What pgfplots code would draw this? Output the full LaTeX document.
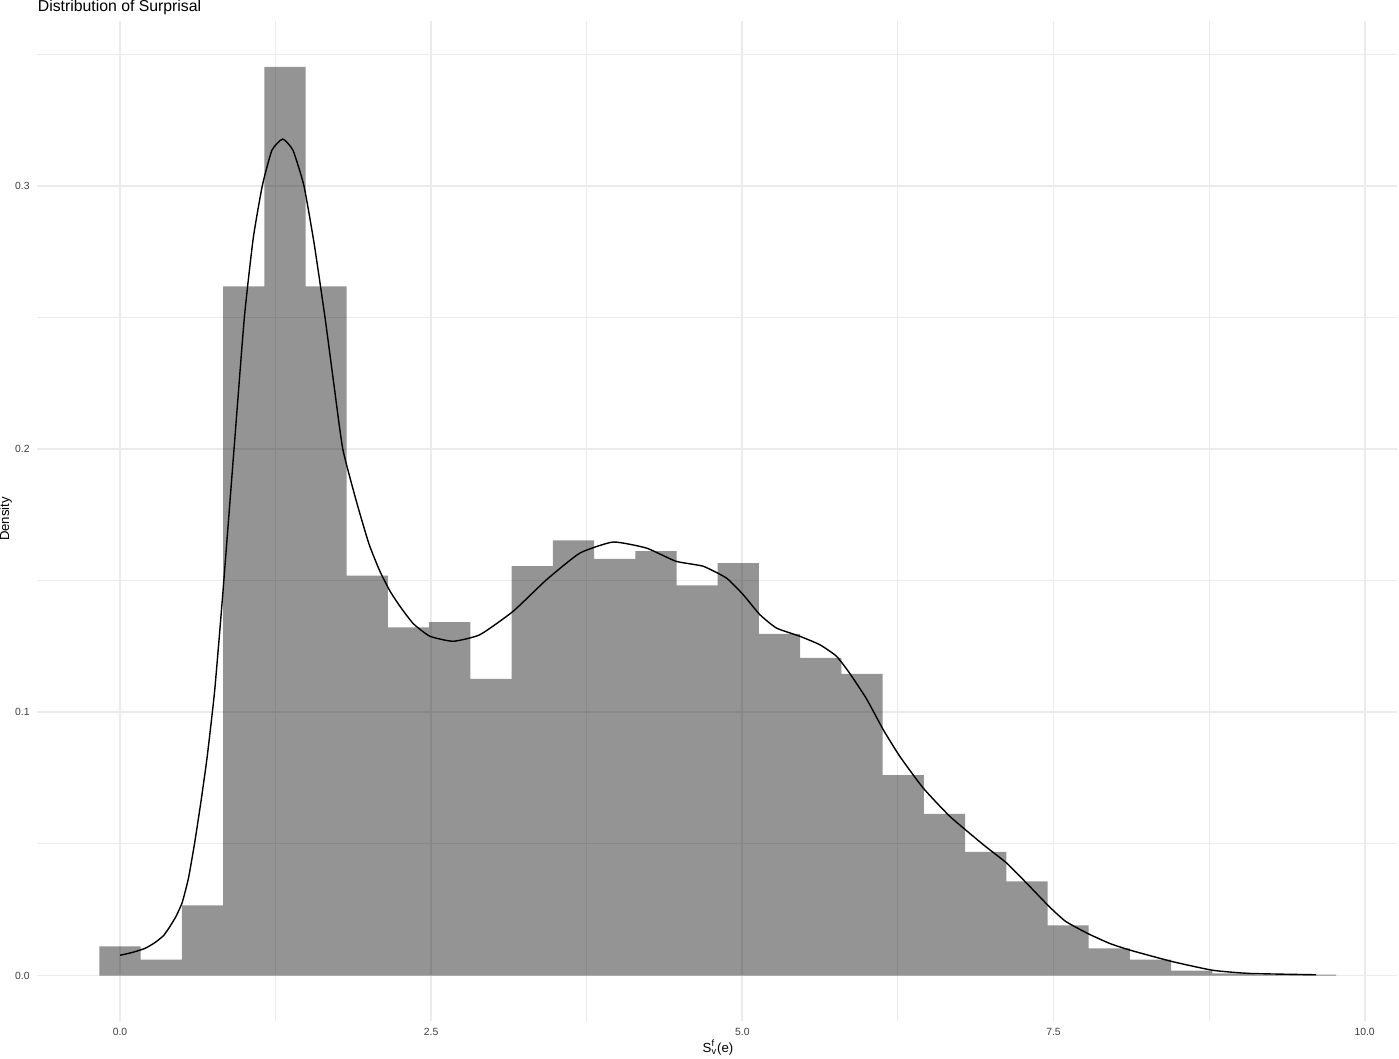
\documentclass[border=0pt]{standalone}
\usepackage{pgfplots}
\pgfplotsset{compat=1.18}
\usepackage{fontspec}
\setmainfont{Liberation Sans}
\definecolor{gridc}{RGB}{235,235,235}
\definecolor{tickc}{RGB}{60,60,60}
\begin{document}
\begin{tikzpicture}
\begin{axis}[
  at={(0,0)}, anchor=south west,
  scale only axis, width=679.75pt, height=499.75pt,
  xmin=-0.663, xmax=10.26, ymin=-0.01726, ymax=0.36246,
  axis line style={draw=none}, tick style={draw=none},
  major tick length=0pt, minor tick length=0pt,
  xtick={0,2.5,5,7.5,10}, xticklabels={0.0,2.5,5.0,7.5,10.0},
  ytick={0,0.1,0.2,0.3}, yticklabels={0.0,0.1,0.2,0.3},
  minor xtick={1.25,3.75,6.25,8.75}, minor ytick={0.05,0.15,0.25,0.35},
  grid=both,
  major grid style={draw=gridc, line width=0.9pt},
  minor grid style={draw=gridc, line width=0.45pt},
  xticklabel style={font=\fontsize{5.2}{6}\selectfont, text=tickc, anchor=base, inner sep=0pt, yshift=-7.35pt},
  yticklabel style={font=\fontsize{5.2}{6}\selectfont, text=tickc, anchor=east, inner sep=0pt, xshift=-3.75pt},
]
\addplot[const plot, fill=black, fill opacity=0.42, draw=none] coordinates {
(-0.1656,0.0111) (0.1656,0.0061) (0.4968,0.0267) (0.8280,0.2618) (1.1592,0.3452)
(1.4904,0.2618) (1.8216,0.1519) (2.1528,0.1323) (2.4840,0.1343) (2.8152,0.1127)
(3.1464,0.1555) (3.4776,0.1653) (3.8088,0.1583) (4.1400,0.1612) (4.4712,0.1482)
(4.8024,0.1567) (5.1336,0.1298) (5.4648,0.1207) (5.7960,0.1146) (6.1272,0.0761)
(6.4584,0.0614) (6.7896,0.0470) (7.1208,0.0358) (7.4520,0.0191) (7.7832,0.0103)
(8.1144,0.0061) (8.4456,0.0019) (8.7768,0.0008) (9.1080,0.0004) (9.4392,0.0004)
(9.7704,0.0004)
} \closedcycle;
\addplot[black, line width=0.7pt, smooth, tension=0.3] coordinates {
(0,0.0077) (0.1,0.0088) (0.2,0.0103) (0.28,0.0125) (0.35,0.0152) (0.402,0.0187)
(0.45,0.0225) (0.5,0.0278) (0.55,0.0370) (0.6,0.0505) (0.65,0.066) (0.7,0.083)
(0.76,0.108) (0.822,0.1428) (0.916,0.2) (0.999,0.25) (1.07,0.28) (1.143,0.3)
(1.22,0.3135) (1.307,0.3178) (1.39,0.3135) (1.478,0.3) (1.56,0.278)
(1.647,0.25) (1.72,0.224) (1.79,0.2) (1.9,0.18) (2.0,0.164) (2.088,0.1536)
(2.17,0.146) (2.249,0.1403) (2.356,0.1337) (2.49,0.1289) (2.677,0.127) (2.892,0.1295)
(3.159,0.1384) (3.427,0.1504) (3.695,0.1605) (3.962,0.1647) (4.23,0.1624)
(4.466,0.1574) (4.685,0.1555) (4.873,0.151) (5.007,0.1447) (5.141,0.1371)
(5.275,0.132) (5.462,0.1289) (5.622,0.1257) (5.757,0.1213) (5.863,0.1148)
(5.997,0.1052) (6.131,0.0935) (6.265,0.0833) (6.452,0.0713) (6.667,0.0605)
(6.934,0.0498) (7.122,0.0428) (7.282,0.0352) (7.47,0.026) (7.6,0.0205)
(7.783,0.0158) (7.952,0.0122) (8.112,0.0097) (8.447,0.0054) (8.78,0.002)
(9.08,0.0008) (9.61,0.0003)
};
\end{axis}
\node[anchor=base west, inner sep=0pt, font=\fontsize{7.9}{9}\selectfont] at (0pt,504.5pt) {Distribution of Surprisal};
\node[rotate=90, inner sep=0pt, font=\fontsize{6.6}{8}\selectfont] at (-15.9pt,251pt) {Density};
\node[anchor=base, inner sep=0pt, font=\fontsize{6.6}{8}\selectfont] at (340.25pt,-16pt) {S\rlap{\textsuperscript{f}}\textsubscript{v}(e)};
\pgfresetboundingbox
\useasboundingbox (-18.75pt,-19pt) rectangle (680.75pt,510.5pt);
\end{tikzpicture}
\end{document}
